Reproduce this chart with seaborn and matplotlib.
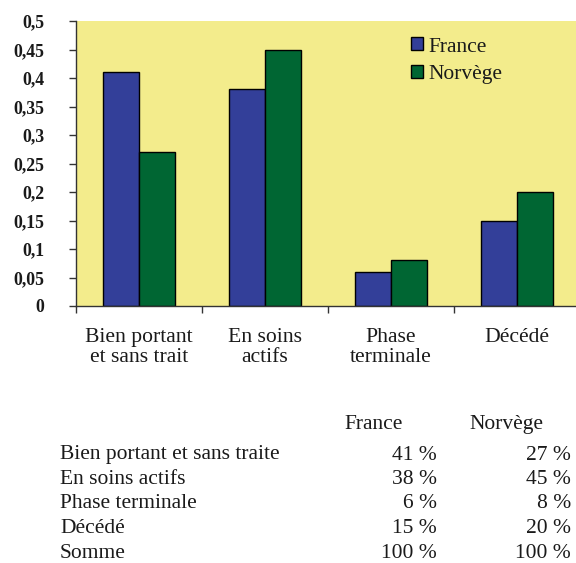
import matplotlib
matplotlib.use("Agg")
import matplotlib.pyplot as plt
import matplotlib.patches as mpatches
import seaborn as sns
import pandas as pd

# ---- data ----
categories = ["Bien portant\net sans trait", "En soins\nactifs", "Phase\nterminale", "Décédé"]
table_rows = ["Bien portant et sans traite", "En soins actifs", "Phase terminale", "Décédé"]
sum_label = "Somme"
series = ["France", "Norvège"]
france = [0.41, 0.38, 0.06, 0.15]
norvege = [0.27, 0.45, 0.08, 0.20]
yticks = [0, 0.05, 0.1, 0.15, 0.2, 0.25, 0.3, 0.35, 0.4, 0.45, 0.5]
ytick_labels = ["0", "0,05", "0,1", "0,15", "0,2", "0,25", "0,3", "0,35", "0,4", "0,45", "0,5"]

BLUE = "#333F99"
GREEN = "#006633"
YELLOW = "#F3EC8C"
TXT = "#1a1a1a"

sns.set_theme(style="white")
plt.rcParams["font.family"] = ["Liberation Serif", "DejaVu Serif"]

df = pd.DataFrame({
    "cat": categories * 2,
    "pays": [series[0]] * len(categories) + [series[1]] * len(categories),
    "val": france + norvege,
})

W, H = 576, 563
fig = plt.figure(figsize=(W / 100, H / 100), dpi=100)
ax = fig.add_axes([76 / W, 1 - 306 / H, 504 / W, 285 / H])

sns.barplot(data=df, x="cat", y="val", hue="pays", order=categories,
            hue_order=series, palette=[BLUE, GREEN], width=0.571,
            edgecolor="black", linewidth=1.0, ax=ax, legend=False,
            saturation=1)

ax.set_facecolor(YELLOW)
ax.set_xlim(-0.5, 3.5)
ax.set_ylim(0, 0.5)
ax.set_xlabel("")
ax.set_ylabel("")
for s in ["top", "right"]:
    ax.spines[s].set_visible(False)
for s in ["left", "bottom"]:
    ax.spines[s].set_color("#333333")
    ax.spines[s].set_linewidth(1.0)

ax.set_yticks(yticks, ytick_labels, fontweight="bold", fontsize=12.8, color=TXT)
ax.tick_params(axis="y", left=True, length=5, width=1, direction="out",
               pad=18, color="#333333")
ax.set_xticks(range(len(categories)), categories, fontsize=15.6, color=TXT,
              linespacing=1.12)
ax.set_xticks([-0.5, 0.5, 1.5, 2.5, 3.5], minor=True)
ax.tick_params(axis="x", which="major", length=0, pad=15.5)
ax.tick_params(axis="x", which="minor", bottom=True, length=5, width=1,
               direction="out", color="#333333")

handles = [mpatches.Patch(facecolor=c, edgecolor="black", linewidth=1.0)
           for c in (BLUE, GREEN)]
ax.legend(handles, series, loc="upper left",
          bbox_to_anchor=(411 / W, 1 - 37.5 / H), bbox_transform=fig.transFigure,
          frameon=False, fontsize=15.5, handlelength=0.55, handleheight=0.55,
          handletextpad=0.25, labelspacing=0.4, borderpad=0, borderaxespad=0,
          labelcolor=TXT)

# ---- table below ----
def fx(x):
    return x / W

def fy(y):
    return 1 - y / H

fs = 15.5
fig.text(fx(373.5), fy(429), series[0], ha="center", va="baseline", fontsize=fs, color=TXT)
fig.text(fx(506), fy(429), series[1], ha="center", va="baseline", fontsize=fs, color=TXT)
rows = table_rows + [sum_label]
fr_vals = [f"{round(v * 100)} %" for v in france] + [f"{round(sum(france) * 100)} %"]
no_vals = [f"{round(v * 100)} %" for v in norvege] + [f"{round(sum(norvege) * 100)} %"]
for i, (lab, a, b) in enumerate(zip(rows, fr_vals, no_vals)):
    y = 459.5 + 24.5 * i
    fig.text(fx(60), fy(y), lab, ha="left", va="baseline", fontsize=fs, color=TXT)
    fig.text(fx(437), fy(y), a, ha="right", va="baseline", fontsize=fs, color=TXT)
    fig.text(fx(571), fy(y), b, ha="right", va="baseline", fontsize=fs, color=TXT)

fig.savefig("out.png", dpi=100)
